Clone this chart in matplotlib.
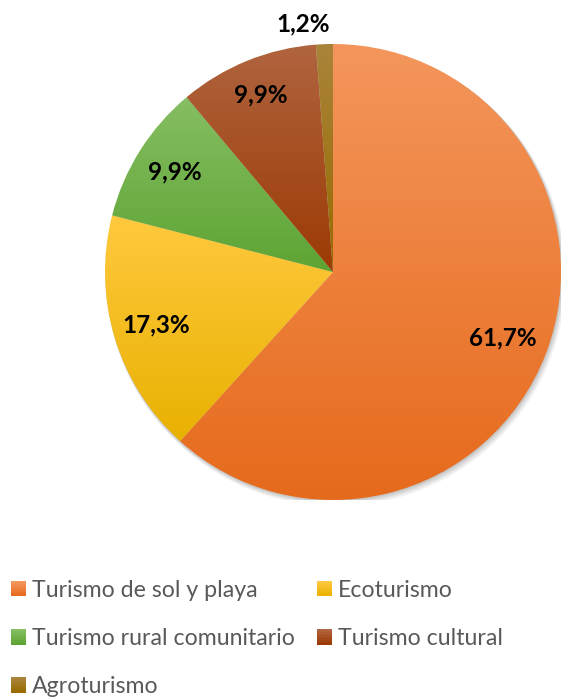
import numpy as np
import matplotlib
matplotlib.use("Agg")
import matplotlib.pyplot as plt
from matplotlib.patches import Rectangle, Circle
from matplotlib.colors import to_rgb
from matplotlib.legend_handler import HandlerBase

plt.rcParams['font.family'] = ['Lato', 'DejaVu Sans']

# Share of tourism types (%)
categories = ["Turismo de sol y playa", "Ecoturismo", "Turismo rural comunitario",
              "Turismo cultural", "Agroturismo"]
shares = [61.7, 17.3, 9.9, 9.9, 1.2]
value_labels = ["61,7%", "17,3%", "9,9%", "9,9%", "1,2%"]

# Gradient colours per slice (top, bottom)
top_colors = ["#F4965C", "#FFC93F", "#86BE63", "#B0643F", "#AA843A"]
bottom_colors = ["#E66A1C", "#E9B100", "#5DA433", "#9C3A04", "#986A00"]

W, H = 561, 700
fig = plt.figure(figsize=(W / 100, H / 100), dpi=100)

# Pie axes: centre (333, 272) px, radius 228 px
cx, cy, R = 333, 272, 228
ax = fig.add_axes([(cx - R) / W, 1 - (cy + R) / H, 2 * R / W, 2 * R / H])
ax.set_xlim(-1, 1)
ax.set_ylim(-1, 1)
ax.set_aspect('equal')
ax.axis('off')

# soft drop shadow
for i, a in enumerate([0.05, 0.05, 0.06, 0.07]):
    off = 0.004 * (4 - i)
    ax.add_patch(Circle((off * 0.8, -off * 1.2), 1.0 + 0.002 * (4 - i),
                        facecolor='black', edgecolor='none', alpha=a, zorder=0))

wedges, _ = ax.pie(shares, startangle=90, counterclock=False, radius=1,
                   wedgeprops=dict(linewidth=0))


def gradient_image(c_top, c_bot, n=256):
    t = np.linspace(0, 1, n)[:, None]
    a = np.array(to_rgb(c_top))
    b = np.array(to_rgb(c_bot))
    img = a[None, None, :] * (1 - t[..., None]) + b[None, None, :] * t[..., None]
    return np.repeat(img, 2, axis=1)


for w, ct, cb in zip(wedges, top_colors, bottom_colors):
    w.set_facecolor('none')
    w.set_zorder(2)
    ext = w.get_path().get_extents()
    im = ax.imshow(gradient_image(ct, cb), extent=[ext.x0, ext.x1, ext.y0, ext.y1],
                   origin='upper', aspect='auto', zorder=1, interpolation='bilinear')
    im.set_clip_path(w)

ax.set_xlim(-1, 1)
ax.set_ylim(-1, 1)

# value labels
label_r = [0.80, 0.81, 0.82, 0.84, 1.09]
label_dx = [0.0, 0.0, 0.0, 0.0, -0.09]
for w, txt, r, dx in zip(wedges, value_labels, label_r, label_dx):
    mid = np.deg2rad((w.theta1 + w.theta2) / 2)
    ax.text(r * np.cos(mid) + dx, r * np.sin(mid), txt, ha='center', va='center',
            fontsize=17.5, fontweight='bold', color='black', zorder=5)


class GradientSquare(HandlerBase):
    def __init__(self, c_top, c_bot):
        super().__init__()
        self.c_top = np.array(to_rgb(c_top))
        self.c_bot = np.array(to_rgb(c_bot))

    def create_artists(self, legend, orig_handle, xdescent, ydescent,
                       width, height, fontsize, trans):
        n = 10
        arts = []
        s = min(width, height)
        x0 = -xdescent
        y0 = -ydescent + (height - s) / 2
        for k in range(n):
            t = k / (n - 1)
            col = self.c_bot * (1 - t) + self.c_top * t
            arts.append(Rectangle((x0, y0 + s * k / n), s, s / n + 0.3,
                                  facecolor=col, edgecolor='none', transform=trans))
        return arts


handles = [Rectangle((0, 0), 1, 1) for _ in categories]
order = [0, 2, 4, 1, 3]
hmap = {handles[i]: GradientSquare(top_colors[i], bottom_colors[i]) for i in range(5)}
leg = fig.legend([handles[i] for i in order], [categories[i] for i in order],
                 loc='upper left', bbox_to_anchor=(11 / W, 1 - 580 / H), ncol=2,
                 frameon=False, fontsize=16.7, handlelength=0.65, handleheight=0.65,
                 handletextpad=0.25, columnspacing=0.95, labelspacing=1.17,
                 handler_map=hmap, borderaxespad=0, borderpad=0)
for t in leg.get_texts():
    t.set_color('#595959')

fig.savefig("out.png", dpi=100)
